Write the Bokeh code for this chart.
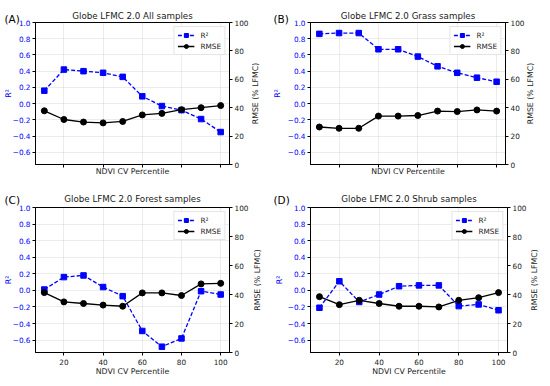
import math
from bokeh.plotting import figure
from bokeh.models import Range1d, LinearAxis, FixedTicker, Label, Legend, LegendItem
from bokeh.layouts import column, row
from bokeh.embed import file_html
from bokeh.resources import INLINE

# ---------------- data ----------------
PERCENTILE = [10, 20, 30, 40, 50, 60, 70, 80, 90, 100]

R2_ALL = [0.16, 0.42, 0.40, 0.38, 0.33, 0.09, -0.03, -0.08, -0.19, -0.35]
RMSE_ALL = [37.8, 31.7, 29.9, 29.3, 30.3, 34.9, 36.0, 38.6, 40.0, 41.5]

R2_GRASS = [0.86, 0.87, 0.87, 0.67, 0.67, 0.58, 0.46, 0.38, 0.32, 0.27]
RMSE_GRASS = [26.4, 25.5, 25.5, 34.1, 34.1, 34.5, 37.6, 37.3, 38.4, 37.6]

R2_FOREST = [0.01, 0.16, 0.18, 0.04, -0.07, -0.49, -0.68, -0.58, -0.01, -0.05]
RMSE_FOREST = [41.3, 34.9, 33.8, 32.7, 31.9, 41.1, 41.1, 39.3, 47.3, 47.7]

R2_SHRUB = [-0.21, 0.11, -0.14, -0.05, 0.05, 0.06, 0.06, -0.19, -0.17, -0.24]
RMSE_SHRUB = [38.5, 33.0, 36.0, 33.8, 31.9, 31.9, 31.4, 36.0, 37.8, 41.3]

TITLES = ["Globe LFMC 2.0 All samples", "Globe LFMC 2.0 Grass samples",
          "Globe LFMC 2.0 Forest samples", "Globe LFMC 2.0 Shrub samples"]
LETTERS = ["(A)", "(B)", "(C)", "(D)"]

X_TICKS = [20, 40, 60, 80, 100]
R2_TICKS = [-0.6, -0.4, -0.2, 0.0, 0.2, 0.4, 0.6, 0.8, 1.0]
R2_TICK_LABELS = ["\u22120.6", "\u22120.4", "\u22120.2", "0.0", "0.2", "0.4", "0.6", "0.8", "1.0"]
RMSE_TICKS = [0, 20, 40, 60, 80, 100]

X_LABEL = "NDVI CV Percentile"
LEFT_LABEL = "R\u00b2"
RIGHT_LABEL = "RMSE (% LFMC)"
SERIES_NAMES = ["R\u00b2", "RMSE"]

# ---------------- style ----------------
FONT = "DejaVu Sans"
BLUE = "#0000ff"
TICK_FS = "7.3px"
LABEL_FS = "7.8px"
TITLE_FS = "8.7px"
LETTER_FS = "10.5px"
X0, X1 = 5.5, 104.5
Y0, Y1 = -0.75, 1.0


def make_panel(idx, r2, rmse, g, show_xticklabels):
    W, H = g["W"], g["H"]
    fw = W - g["bl"] - g["br"]
    fh = H - g["bt"] - g["bb"]
    p = figure(width=W, height=H,
               min_border_left=g["bl"], min_border_right=g["br"],
               min_border_top=g["bt"], min_border_bottom=g["bb"],
               x_range=Range1d(X0, X1), y_range=Range1d(Y0, Y1),
               output_backend="svg", toolbar_location=None,
               background_fill_color="white", border_fill_color="white")
    p.title_location = None
    p.extra_y_ranges = {"rmse": Range1d(0, 100)}
    p.outline_line_color = "black"
    p.outline_line_width = 1

    # x axis (its title is drawn as a label in the bottom panel)
    xa = p.xaxis[0]
    xa.ticker = FixedTicker(ticks=X_TICKS)
    xa.major_label_text_font = FONT
    xa.major_label_text_font_size = TICK_FS
    xa.major_label_text_color = "#1a1a1a"
    xa.major_tick_out = 3
    xa.major_tick_in = 0
    xa.minor_tick_out = 0
    xa.minor_tick_in = 0
    xa.axis_line_color = "black"
    if show_xticklabels:
        xa.major_label_standoff = 3
    else:
        xa.major_label_overrides = {t: "" for t in X_TICKS}
        xa.major_label_standoff = 0

    # left axis
    ya = p.yaxis[0]
    ya.ticker = FixedTicker(ticks=R2_TICKS)
    ya.major_label_overrides = {t: s for t, s in zip(R2_TICKS, R2_TICK_LABELS)}
    ya.major_label_text_font = FONT
    ya.major_label_text_font_size = TICK_FS
    ya.major_label_text_color = BLUE
    ya.major_tick_out = 3
    ya.major_tick_in = 0
    ya.minor_tick_out = 0
    ya.minor_tick_in = 0
    ya.major_label_standoff = 2
    ya.axis_line_color = "black"

    # right axis
    ra = LinearAxis(y_range_name="rmse", ticker=FixedTicker(ticks=RMSE_TICKS))
    ra.major_label_text_font = FONT
    ra.major_label_text_font_size = TICK_FS
    ra.major_label_text_color = "#1a1a1a"
    ra.major_tick_out = 3
    ra.major_tick_in = 0
    ra.minor_tick_out = 0
    ra.minor_tick_in = 0
    ra.major_label_standoff = 2
    ra.axis_line_color = "black"
    p.add_layout(ra, "right")

    # grid
    p.xgrid.ticker = FixedTicker(ticks=X_TICKS)
    p.ygrid.ticker = FixedTicker(ticks=R2_TICKS)
    for gr in (p.xgrid[0], p.ygrid[0]):
        gr.grid_line_color = "#b0b0b0"
        gr.grid_line_alpha = 0.3
        gr.grid_line_width = 0.8

    # series
    l1 = p.line(PERCENTILE, r2, line_color=BLUE, line_width=1.3, line_dash="4 2")
    s1 = p.scatter(PERCENTILE, r2, marker="square", size=5.5, fill_color=BLUE, line_color=BLUE)
    l2 = p.line(PERCENTILE, rmse, line_color="black", line_width=1.3, y_range_name="rmse")
    s2 = p.scatter(PERCENTILE, rmse, marker="circle", size=6, fill_color="black",
                   line_color="black", y_range_name="rmse")

    legend = Legend(items=[LegendItem(label=SERIES_NAMES[0], renderers=[l1, s1]),
                           LegendItem(label=SERIES_NAMES[1], renderers=[l2, s2])],
                    location="top_right", margin=4, padding=3, spacing=1,
                    glyph_width=17, glyph_height=10, label_height=9, label_standoff=6,
                    label_text_font=FONT, label_text_font_size=TICK_FS,
                    label_text_color="#1a1a1a",
                    border_line_color="#cccccc", border_line_width=1,
                    background_fill_color="white", background_fill_alpha=0.85)
    p.add_layout(legend, "center")

    # pixel -> data helpers (texts live in the side panels so they are not clipped)
    sx = (X1 - X0) / fw
    sy = (Y1 - Y0) / fh

    p.add_layout(Label(x=(X0 + X1) / 2, y=Y1 + g["title_dy"] * sy, text=TITLES[idx],
                       text_font=FONT, text_font_size=TITLE_FS,
                       text_color="#1a1a1a", text_align="center", text_baseline="middle"),
                 "above")
    p.add_layout(Label(x=X0 - g["let_dx"] * sx, y=Y1 + g["let_dy"] * sy, text=LETTERS[idx],
                       text_font=FONT, text_font_size=LETTER_FS,
                       text_color="black", text_align="left", text_baseline="top"),
                 "above")
    p.add_layout(Label(x=(X0 + X1) / 2, y=Y0 - g["xl_dy"] * sy, text=X_LABEL,
                       text_font=FONT, text_font_size=LABEL_FS,
                       text_color="#1a1a1a", text_align="center", text_baseline="middle"),
                 "below")
    p.add_layout(Label(x=X0 - g["r2_dx"] * sx, y=(Y0 + Y1) / 2, text=LEFT_LABEL,
                       text_font=FONT, text_font_size=LABEL_FS,
                       text_color=BLUE, text_align="center", text_baseline="middle",
                       angle=math.pi / 2),
                 "left")
    p.add_layout(Label(x=X1 + g["rm_dx"] * sx, y=50, y_range_name="rmse", text=RIGHT_LABEL,
                       text_font=FONT, text_font_size=LABEL_FS,
                       text_color="#1a1a1a", text_align="center", text_baseline="middle",
                       angle=math.pi / 2),
                 "right")
    return p


GEOM = [
    dict(W=271, H=185, bl=32, br=42, bt=11, bb=21, title_dy=7, let_dx=31.5, let_dy=10.5,
         xl_dy=8, r2_dx=27.5, rm_dx=26),
    dict(W=271, H=185, bl=39, br=37, bt=11, bb=21, title_dy=7, let_dx=37, let_dy=10.5,
         xl_dy=8, r2_dx=33, rm_dx=25),
    dict(W=271, H=193, bl=32, br=42, bt=15, bb=26, title_dy=9, let_dx=31.5, let_dy=14,
         xl_dy=20, r2_dx=27.5, rm_dx=28),
    dict(W=271, H=193, bl=39, br=35, bt=15, bb=26, title_dy=9, let_dx=37, let_dy=14,
         xl_dy=20, r2_dx=31, rm_dx=26.5),
]

pa = make_panel(0, R2_ALL, RMSE_ALL, GEOM[0], False)
pb = make_panel(1, R2_GRASS, RMSE_GRASS, GEOM[1], False)
pc = make_panel(2, R2_FOREST, RMSE_FOREST, GEOM[2], True)
pd = make_panel(3, R2_SHRUB, RMSE_SHRUB, GEOM[3], True)

layout = column(row(pa, pb, spacing=0), row(pc, pd, spacing=0), spacing=0)

with open("out.html", "w") as f:
    f.write(file_html(layout, INLINE))
